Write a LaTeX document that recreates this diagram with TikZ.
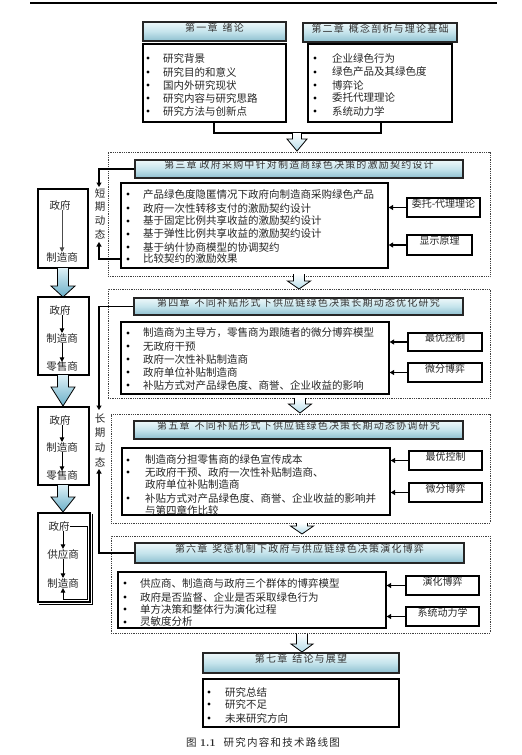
\documentclass[tikz,border=0pt]{standalone}
\usepackage{fontspec}
\usetikzlibrary{arrows.meta,fit,calc}
\IfFontExistsTF{FandolSong-Regular.otf}{%
  \newfontfamily\cjk{FandolSong-Regular.otf}%
  \newfontfamily\cjkh[LetterSpace=12]{FandolSong-Regular.otf}%
}{%
  \newfontfamily\cjk{Noto Sans CJK SC}%
  \newfontfamily\cjkh[LetterSpace=12]{Noto Sans CJK SC}%
}
\definecolor{hdtop}{HTML}{EEF8FA}
\definecolor{hdmid}{HTML}{C5E4EC}
\definecolor{hdbot}{HTML}{8DBFCF}
\definecolor{arrbot}{HTML}{B5DDEA}
\definecolor{larrtop}{HTML}{DDF0F6}
\definecolor{larrbot}{HTML}{6AAFC8}
\newcommand\hollowarr[8]{%
  \path[top color=#7, bottom color=#8] (#1-#5,#2) -- (#1+#5,#2) -- (#1+#5,#3) -- (#1+#6,#3) -- (#1,#4) -- (#1-#6,#3) -- (#1-#5,#3) -- cycle;
  \draw[line width=0.8pt, line join=miter] (#1+#5,#2) -- (#1+#5,#3) -- (#1+#6,#3) -- (#1,#4) -- (#1-#6,#3) -- (#1-#5,#3) -- (#1-#5,#2);}
\begin{document}
\begin{tikzpicture}[x=1pt,y=-1pt,
  hdr/.style={draw=black!85, line width=1.4pt, top color=hdtop, bottom color=hdbot, middle color=hdmid, inner sep=0pt, font=\cjkh\fontsize{10}{12}\selectfont, text=black!80},
  lst/.style={draw=black, line width=1.3pt, fill=white, inner sep=0pt},
  side/.style={draw=black, line width=1.3pt, fill=white, inner sep=0pt, font=\cjk\fontsize{10}{12}\selectfont, text=black!85},
  lbox/.style={draw=black, line width=1.2pt, fill=white, inner sep=0pt},
  dotbox/.style={draw=black!75, line width=0.7pt, dash pattern=on 0.9pt off 0.9pt, inner sep=0pt},
  itm/.style={anchor=west, inner sep=0pt, font=\cjk\fontsize{10.5}{12}\selectfont, text=black!85},
  bul/.style={circle, fill=black, inner sep=0pt, minimum size=3.2pt},
  lbl/.style={inner sep=0pt, font=\cjk\fontsize{10.5}{12}\selectfont, text=black!85},
  conn/.style={line width=1.3pt, -{Triangle[length=4.5pt,width=5pt]}},
  thin/.style={line width=0.9pt, -{Triangle[length=4.5pt,width=4.5pt]}},
  plain/.style={line width=1.3pt},
]
\useasboundingbox (0,0) rectangle (522,755);
\fill[white] (0,0) rectangle (522,755);
\draw[line width=1.8pt] (30,3) -- (497,3);

% dotted frames
\node[dotbox, fit={(108,152) (490,276)}] (d3) {};
\node[dotbox, fit={(108,289) (490,398)}] (d4) {};
\node[dotbox, fit={(111,414) (490,523)}] (d5) {};
\node[dotbox, fit={(111,536) (490,633)}] (d6) {};

% chapter 1 and 2
\node[hdr, fit={(143,22) (286,41)}] (h1) {第一章\hspace{5pt}绪论};
\node[hdr, fit={(303,23) (457,42)}] (h2) {第二章\hspace{5pt}概念剖析与理论基础};
\node[lst, fit={(143,44) (286,122)}] (l1) {};
\node[lst, fit={(308,44) (452,122)}] (l2) {};
\foreach \y/\t [count=\i] in {58/研究背景,72/研究目的和意义,85/国内外研究现状,98/研究内容与研究思路,111/研究方法与创新点}{
  \node[bul] (l1b\i) at (148,\y) {};
  \node[itm] (l1t\i) at (163,\y) {\t};
}
\foreach \y/\t [count=\i] in {58/企业绿色行为,72/绿色产品及其绿色度,85/博弈论,98/委托代理理论,111/系统动力学}{
  \node[bul] (l2b\i) at (315,\y) {};
  \node[itm] (l2t\i) at (332,\y) {\t};
}
\coordinate (j1) at (214,133);
\coordinate (j2) at (381,133);
\draw[plain] (l1.south -| j1) -- (j1) -- (j2) -- (l2.south -| j2);
\hollowarr{297}{133}{139}{151}{4.5}{10}{white}{arrbot}

% chapter 3
\node[hdr, fit={(135,160) (463,178)}] (h3) {第三章\hspace{3pt}政府采购中针对制造商绿色决策的激励契约设计};
\node[lst, fit={(121,183) (388,268)}] (l3) {};
\foreach \y/\t [count=\i] in {194/产品绿色度隐匿情况下政府向制造商采购绿色产品,208/政府一次性转移支付的激励契约设计,221/基于固定比例共享收益的激励契约设计,234/基于弹性比例共享收益的激励契约设计,247/基于纳什协商模型的协调契约,259/比较契约的激励效果}{
  \node[bul] (l3b\i) at (128,\y) {};
  \node[itm] (l3t\i) at (143,\y) {\t};
}
\node[side, fit={(407,198) (480,217)}] (s3a) {委托-代理理论};
\node[side, fit={(407,235) (472,255)}] (s3b) {显示原理};
\draw[conn] (s3a.west) -- (s3a.west -| l3.east);
\draw[conn] (s3b.west) -- (s3b.west -| l3.east);
\hollowarr{299}{274}{281}{289}{5.5}{11.5}{white}{arrbot}

% chapter 4
\node[hdr, fit={(134,298) (463,315)}] (h4) {第四章\hspace{5pt}不同补贴形式下供应链绿色决策长期动态优化研究};
\node[lst, fit={(121,322) (389,394)}] (l4) {};
\foreach \y/\t [count=\i] in {333/{制造商为主导方，零售商为跟随者的微分博弈模型},346/无政府干预,359/政府一次性补贴制造商,372/政府单位补贴制造商,385/补贴方式对产品绿色度、商誉、企业收益的影响}{
  \node[bul] (l4b\i) at (128,\y) {};
  \node[itm] (l4t\i) at (143,\y) {\t};
}
\node[side, fit={(408,333) (482,351)}] (s4a) {最优控制};
\node[side, fit={(408,363) (482,382)}] (s4b) {微分博弈};
\draw[conn] (s4a.west) -- (s4a.west -| l4.east);
\draw[conn] (s4b.west) -- (s4b.west -| l4.east);
\hollowarr{300}{398}{404}{413}{5.5}{11.5}{white}{arrbot}

% chapter 5
\node[hdr, fit={(134,421) (463,439)}] (h5) {第五章\hspace{5pt}不同补贴形式下供应链绿色决策长期动态协调研究};
\node[lst, fit={(122,448) (390,515)}] (l5) {};
\node[bul] (l5b1) at (128,460) {};
\node[itm] (l5t1) at (145,460) {制造商分担零售商的绿色宣传成本};
\node[bul] (l5b2) at (128,472) {};
\node[itm] (l5t2) at (145,472) {无政府干预、政府一次性补贴制造商、};
\node[itm] (l5t3) at (145,484) {政府单位补贴制造商};
\node[bul] (l5b4) at (128,498) {};
\node[itm] (l5t4) at (145,498) {补贴方式对产品绿色度、商誉、企业收益的影响并};
\node[itm] (l5t5) at (145,510) {与第四章作比较};
\node[side, fit={(409,451) (482,470)}] (s5a) {最优控制};
\node[side, fit={(409,483) (482,502)}] (s5b) {微分博弈};
\draw[conn] (s5a.west) -- (s5a.west -| l5.east);
\draw[conn] (s5b.west) -- (s5b.west -| l5.east);
\hollowarr{302}{523}{526}{534}{5.5}{11.5}{white}{arrbot}

% chapter 6
\node[hdr, fit={(135,543) (464,563)}] (h6) {第六章\hspace{5pt}奖惩机制下政府与供应链绿色决策演化博弈};
\node[lst, fit={(118,572) (386,628)}] (l6) {};
\foreach \y/\t [count=\i] in {583/供应商、制造商与政府三个群体的博弈模型,597/政府是否监督、企业是否采取绿色行为,609/单方决策和整体行为演化过程,622/灵敏度分析}{
  \node[bul] (l6b\i) at (125,\y) {};
  \node[itm] (l6t\i) at (140,\y) {\t};
}
\node[side, fit={(406,576) (479,595)}] (s6a) {演化博弈};
\node[side, fit={(406,607) (479,626)}] (s6b) {系统动力学};
\draw[conn] (s6a.west) -- (s6a.west -| l6.east);
\draw[conn] (s6b.west) -- (s6b.west -| l6.east);
\hollowarr{302}{634}{644}{652}{5.5}{11}{white}{arrbot}

% chapter 7
\node[hdr, fit={(203,653) (399,673)}] (h7) {第七章\hspace{5pt}结论与展望};
\node[lst, fit={(203,679) (399,727)}] (l7) {};
\foreach \y/\t [count=\i] in {692/研究总结,704/研究不足,718/未来研究方向}{
  \node[bul] (l7b\i) at (209,\y) {};
  \node[itm] (l7t\i) at (225,\y) {\t};
}
\node[lbl, font=\cjkh\fontsize{10.5}{12}\selectfont] (cap) at (263,742) {图 {\normalfont\bfseries 1.1}\hspace{8pt}研究内容和技术路线图};

% short-term dynamics
\foreach \y/\t [count=\i] in {193/短,207/期,221/动,234/态}{
  \node[lbl] (sd\i) at (100,\y) {\t};
}
\coordinate (st1) at (99,187);
\coordinate (st2) at (99,242);
\draw[conn] (h3.west) -| (st1);
\draw[conn] (l3b6 -| l3.west) -| (st2);

% long-term dynamics
\foreach \y/\t [count=\i] in {418/长,433/期,448/动,462/态}{
  \node[lbl] (ld\i) at (100,\y) {\t};
}
\coordinate (lt1) at (99,410);
\coordinate (lt2) at (99,469);
\draw[conn] (h4.west) -| (lt1);
\draw[conn] (h6.west) -| (lt2);

% left column
\node[lbox, fit={(38,189) (88,268)}] (b1) {};
\node[lbl] (g1) at (60,205) {政府};
\node[lbl] (m1) at (62,257) {制造商};
\draw[thin, draw=black!70] (g1.south -| m1) -- (m1.north);
\hollowarr{63}{268}{286}{297}{5.5}{12}{larrtop}{larrbot}

\node[lbox, fit={(38,297) (89,375)}] (b2) {};
\node[lbl] (g2) at (60,310) {政府};
\node[lbl] (m2) at (62,338) {制造商};
\node[lbl] (r2) at (62,367) {零售商};
\draw[thin] (g2.south -| m2) -- (m2.north);
\draw[thin] (m2.south) -- (r2.north);
\hollowarr{63}{375}{387}{406}{5.5}{12}{larrtop}{larrbot}

\node[lbox, fit={(38,407) (89,485)}] (b3) {};
\node[lbl] (g3) at (60,420) {政府};
\node[lbl] (m3) at (62,447) {制造商};
\node[lbl] (r3) at (62,476) {零售商};
\draw[thin] (g3.south -| m3) -- (m3.north);
\draw[thin] (m3.south) -- (r3.north);
\hollowarr{63}{485}{497}{512}{5.5}{12}{larrtop}{larrbot}

\node[lbox, fit={(38,513) (90,602)}] (b4) {};
\draw[line width=1pt] (b4.north east) ++(1.5,1.5) |- ($(b4.south west)+(1.5,1.5)$);
\node[lbl] (g4) at (59,526) {政府};
\node[lbl] (p4) at (63,554) {供应商};
\node[lbl] (m4) at (63,583) {制造商};
\draw[thin] (g4.south -| p4) -- (p4.north);
\draw[thin] (p4.south) -- (m4.north);
\coordinate (fb1) at (87,599);
\draw[thin] (g4.east) -| (fb1) -| (m4.south);
\end{tikzpicture}
\end{document}
